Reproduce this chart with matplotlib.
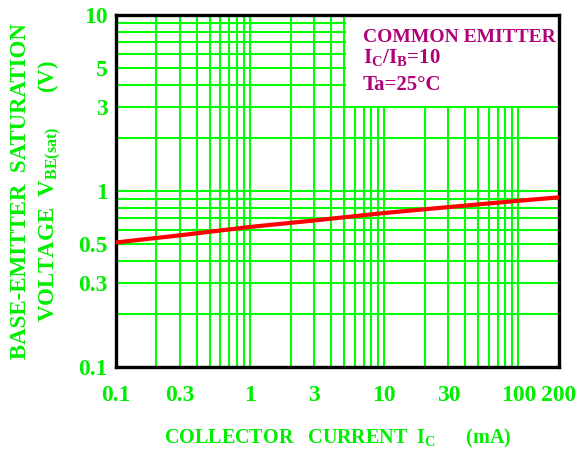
import matplotlib
matplotlib.use("Agg")
from matplotlib import pyplot as plt
from matplotlib.patches import Rectangle
from matplotlib.ticker import FixedLocator, FixedFormatter

# Data
ic = [0.1, 0.3, 1, 3, 10, 30, 100, 200]
vbe = [0.51, 0.56, 0.625, 0.68, 0.75, 0.81, 0.88, 0.92]

# Tick labels shown on the axes
x_labels = [0.1, 0.3, 1, 3, 10, 30, 100, 200]
y_labels = [0.1, 0.3, 0.5, 1, 3, 5, 10]

green = "#00ee00"
grid_green = "#00ff00"
magenta = "#b0007a"

plt.rcParams['font.family'] = ['Liberation Serif', 'DejaVu Serif']
plt.rcParams['font.weight'] = 'bold'
plt.rcParams['axes.labelweight'] = 'bold'
plt.rcParams['mathtext.fontset'] = 'custom'
plt.rcParams['mathtext.rm'] = 'Liberation Serif:bold'
plt.rcParams['mathtext.it'] = 'Liberation Serif:bold'
plt.rcParams['mathtext.bf'] = 'Liberation Serif:bold'


def fmt(v):
    return "%g" % v


fig = plt.figure(figsize=(5.84, 4.54), dpi=100)
ax = fig.add_axes([0.1986, 0.1916, 0.7584, 0.7754])
ax.set_xscale('log')
ax.set_yscale('log')
ax.set_xlim(0.1, 200)
ax.set_ylim(0.1, 10)

# grid positions: 1..9 of every decade
x_grid = [m * 10 ** e for e in (-1, 0, 1) for m in range(1, 10)] + [100, 200]
y_grid = [m * 10 ** e for e in (-1, 0) for m in range(1, 10)] + [10]

ax.xaxis.set_major_locator(FixedLocator(x_grid))
ax.xaxis.set_major_formatter(FixedFormatter(
    [fmt(v) if any(abs(v - l) < 1e-9 for l in x_labels) else '' for v in x_grid]))
ax.xaxis.set_minor_locator(FixedLocator([]))
ax.yaxis.set_major_locator(FixedLocator(y_grid))
ax.yaxis.set_major_formatter(FixedFormatter(
    [fmt(v) if any(abs(v - l) < 1e-9 for l in y_labels) else '' for v in y_grid]))
ax.yaxis.set_minor_locator(FixedLocator([]))

ax.set_axisbelow(True)
ax.grid(True, color=grid_green, linewidth=1.5)
ax.tick_params(length=0, labelsize=17, labelcolor=green)
ax.tick_params(axis='x', pad=13)
ax.tick_params(axis='y', pad=6)

for s in ax.spines.values():
    s.set_linewidth(2.4)
    s.set_color('black')

# white box behind the condition text
ax.add_patch(Rectangle((5.2, 3.05), 200 - 5.2, 10 - 3.05,
                       facecolor='white', edgecolor='none', zorder=1))

ax.plot(ic, vbe, color='red', linewidth=3, zorder=3)

ax.text(0.5576, 0.923, "COMMON EMITTER", transform=ax.transAxes,
        color=magenta, fontsize=14, va='baseline', zorder=4)
ax.text(0.5576, 0.864, r"$\mathrm{I_C/I_B}$=10", transform=ax.transAxes,
        color=magenta, fontsize=15, va='baseline', zorder=4)
ax.text(0.5576, 0.787, "Ta=25\u00b0C", transform=ax.transAxes,
        color=magenta, fontsize=15, va='baseline', zorder=4)

ax.set_xlabel(r"COLLECTOR   CURRENT  $\mathrm{I_C}$      (mA)",
              color=green, fontsize=14.5, labelpad=15)

fig.text(0.063, 0.579,
         "BASE-EMITTER  SATURATION\n" + r"VOLTAGE  $\mathrm{V_{BE(sat)}}$      (V)",
         rotation=90, ha='center', va='center', multialignment='center',
         color=green, fontsize=16.5, linespacing=1.25)

fig.savefig("out.png", dpi=100)
